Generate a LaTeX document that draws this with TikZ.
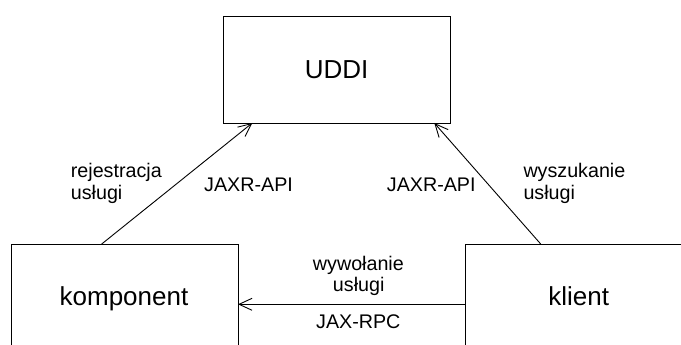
\documentclass[tikz,border=0pt]{standalone}
\usepackage{fontspec}
\setmainfont{Liberation Sans}
\usetikzlibrary{arrows.meta}
\begin{document}
\begin{tikzpicture}[x=1pt,y=-1pt,
  box/.style={draw=black,line width=0.9pt,fill=none,inner sep=0,outer sep=0},
  big/.style={font=\fontsize{26}{30}\selectfont,inner sep=0,anchor=base},
  small/.style={font=\fontsize{19.7}{22}\selectfont,inner sep=0},
  arr/.style={draw=black,line width=0.9pt,-{Straight Barb[length=13pt,width=12pt,line width=0.9pt]}}]
\path[use as bounding box,clip] (0,0) rectangle (681,345);
\fill[white] (0,0) rectangle (681,345);
% boxes
\node[box,minimum width=227pt,minimum height=107pt] (uddi) at (336.5,69.5) {};
\node[box,minimum width=227pt,minimum height=156pt] (komp) at (124.5,322) {};
\node[box,minimum width=255pt,minimum height=156pt] (klient) at (592.5,322) {};
% box texts
\node[big] (uddit) at (336.7,79) {UDDI};
\node[big] (kompt) at (124,305) {komponent};
\node[big] (klientt) at (578.8,305) {klient};
% connectors
\draw[arr] ([xshift=-22.8pt]komp.north) -- ([xshift=-84.2pt]uddi.south);
\draw[arr] ([xshift=75.7pt]klient.north west) -- ([xshift=97.8pt]uddi.south);
\draw[arr] ([yshift=-60.3pt]klient.north west) -- ([yshift=-60.3pt]komp.north east);
% labels
\node[small,anchor=base west] (rej1) at (70.7,177.7) {rejestracja};
\node[small,anchor=base west] (rej2) at (70.7,199.3) {usługi};
\node[small,anchor=base west] (jaxrl) at (204,191.5) {JAXR-API};
\node[small,anchor=base west] (jaxrr) at (386.7,191.5) {JAXR-API};
\node[small,anchor=base west] (wys1) at (523.3,177.7) {wyszukanie};
\node[small,anchor=base west] (wys2) at (523.3,199.3) {usługi};
\node[small,anchor=base] (wyw1) at (358.4,270.1) {wywołanie};
\node[small,anchor=base] (wyw2) at (358.7,291.7) {usługi};
\node[small,anchor=base] (rpc) at (358.3,328.3) {JAX-RPC};
\end{tikzpicture}
\end{document}
